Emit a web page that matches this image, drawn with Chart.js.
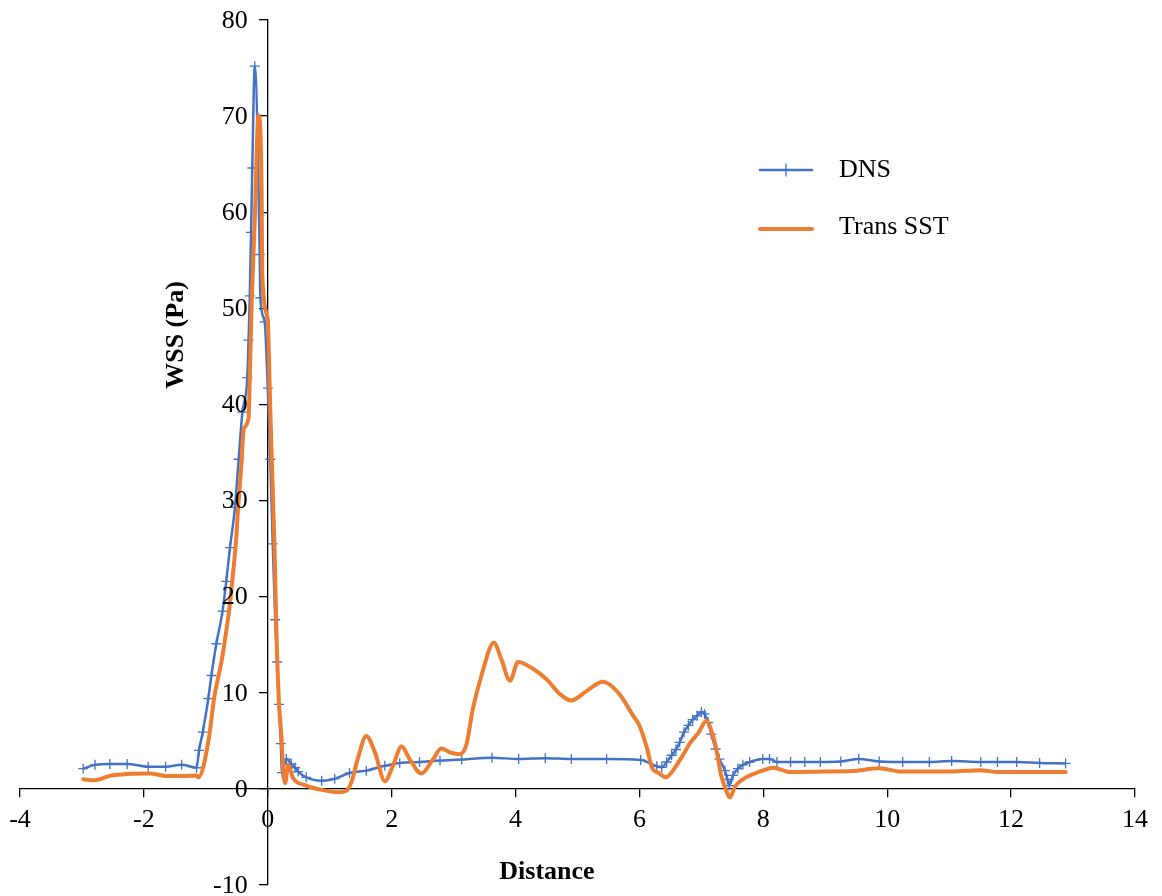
<!DOCTYPE html>
<html>
<head>
<meta charset="utf-8">
<title>WSS vs Distance</title>
<script src="https://cdn.jsdelivr.net/npm/chart.js@4.4.1/dist/chart.umd.min.js"></script>
<style>
  body { margin: 0; background: #fff; }
  #grafica { display: block; }
</style>
</head>
<body>
<canvas id="grafica" width="1162" height="896"></canvas>
<script>
// Serie DNS (con marcadores +)
const dnsX = [-2.98, -2.79, -2.55, -2.27, -1.93, -1.65, -1.39, -1.15, -1.11, -1.05, -0.96, -0.91, -0.83, -0.73, -0.67, -0.61, -0.53, -0.47, -0.41,
  -0.33, -0.31, -0.29, -0.27, -0.25, -0.21, -0.13, -0.12, -0.05, 0.00, 0.04, 0.08, 0.12, 0.15, 0.18, 0.21, 0.23, 0.30, 0.38, 0.44, 0.49,
  0.62, 0.87, 1.08, 1.32, 1.59, 1.89, 2.13, 2.45, 2.78, 3.13, 3.62, 4.05, 4.48, 4.90, 5.47, 6.02, 6.28, 6.36, 6.44, 6.52, 6.59, 6.65,
  6.72, 6.79, 6.86, 6.93, 7.00, 7.05, 7.11, 7.16, 7.23, 7.29, 7.38, 7.42, 7.45, 7.51, 7.59, 7.67, 7.78, 7.99, 8.10, 8.22, 8.44, 8.67,
  8.92, 9.25, 9.54, 9.87, 10.25, 10.68, 11.04, 11.51, 11.78, 12.09, 12.46, 12.88]
const dnsY = [2.1, 2.5, 2.6, 2.6, 2.3, 2.3, 2.5, 2.2, 4.0, 5.9, 9.4, 11.8, 15.1, 18.5, 21.6, 25.1, 29.3, 34.3, 39.2,
  42.8, 46.7, 51.3, 57.9, 64.6, 75.2, 55.6, 51.1, 48.6, 41.7, 34.3, 25.5, 17.6, 13.2, 8.8, 4.7, 1.7, 3.1, 2.6, 2.2, 1.8,
  1.2, 0.85, 1.05, 1.65, 1.9, 2.4, 2.7, 2.8, 2.95, 3.05, 3.25, 3.1, 3.2, 3.1, 3.1, 3.0, 2.35, 2.25, 2.8, 3.5, 4.1, 4.85,
  5.9, 6.6, 7.2, 7.6, 8.0, 7.8, 6.9, 5.7, 4.15, 3.1, 1.9, 1.0, 0.35, 1.4, 2.1, 2.5, 2.8, 3.1, 3.1, 2.8, 2.8, 2.8,
  2.8, 2.85, 3.1, 2.85, 2.8, 2.8, 2.9, 2.8, 2.8, 2.8, 2.7, 2.65]

// Serie Trans SST (linea continua)
const sstX = [-2.98, -2.79, -2.55, -2.27, -1.90, -1.64, -1.35, -1.15, -1.12, -0.96, -0.86, -0.80, -0.74, -0.68, -0.62, -0.56, -0.51, -0.48,
  -0.42, -0.39, -0.31, -0.29, -0.26, -0.21, -0.15, -0.10, -0.09, 0.00, 0.03, 0.06, 0.11, 0.14, 0.18, 0.22, 0.25, 0.28, 0.33, 0.41,
  0.60, 0.87, 1.14, 1.27, 1.35, 1.46, 1.59, 1.73, 1.89, 2.02, 2.16, 2.29, 2.48, 2.67, 2.80, 2.94, 3.10, 3.21, 3.31, 3.45, 3.65,
  3.77, 3.91, 4.04, 4.28, 4.50, 4.71, 4.90, 5.15, 5.41, 5.66, 5.90, 6.00, 6.11, 6.21, 6.30, 6.43, 6.54, 6.70, 6.81, 6.96, 7.08,
  7.16, 7.24, 7.32, 7.39, 7.46, 7.54, 7.67, 7.86, 8.08, 8.15, 8.44, 8.98, 9.43, 9.87, 10.22, 11.02, 11.49, 11.81, 12.88]
const sstY = [1.0, 0.9, 1.35, 1.55, 1.6, 1.35, 1.35, 1.4, 1.2, 4.9, 9.7, 11.6, 13.5, 16.0, 18.8, 22.5, 26.0, 29.1,
  34.3, 37.4, 38.6, 42.9, 50.6, 59.2, 70.1, 62.7, 53.7, 48.8, 41.9, 35.3, 24.9, 16.3, 9.0, 5.5, 2.0, 0.6, 2.5, 1.1,
  0.4, -0.1, -0.35, -0.2, 0.7, 3.3, 5.5, 3.8, 0.8, 2.4, 4.4, 3.1, 1.6, 3.1, 4.2, 3.8, 3.6, 4.7, 8.3, 11.8, 15.2,
  13.5, 11.25, 13.2, 12.5, 11.4, 9.9, 9.2, 10.2, 11.15, 10.0, 7.6, 6.6, 4.5, 2.1, 1.7, 1.2, 1.9, 3.5, 4.7, 5.9, 7.1,
  6.1, 4.15, 1.4, 0.0, -0.9, 0.2, 1.0, 1.6, 2.1, 2.2, 1.75, 1.8, 1.85, 2.15, 1.8, 1.8, 1.95, 1.75, 1.75]

// Ejes
const xMin = -4
const xMax = 14
const xStep = 2
const yMin = -10
const yMax = 80
const yStep = 10

const etiquetaX = 'Distance'
const etiquetaY = 'WSS (Pa)'
const nombreDns = 'DNS'
const nombreSst = 'Trans SST'

const azul = '#4472C4'
const naranja = '#ED7D31'
const fuente = "'Liberation Serif', 'Times New Roman', serif"

function armarPuntos (xs, ys) {
  return xs.map((x, i) => ({ x, y: ys[i] }))
}

// Etiquetas del eje Y a la izquierda del eje (que cruza en x = 0)
const etiquetasY = {
  id: 'etiquetasY',
  afterDraw (chart) {
    const ctx = chart.ctx
    const sx = chart.scales.x
    const sy = chart.scales.y
    const xEje = sx.getPixelForValue(0)
    ctx.save()
    ctx.fillStyle = '#000'
    ctx.font = '26px ' + fuente
    ctx.textAlign = 'right'
    ctx.textBaseline = 'middle'
    sy.ticks.forEach((t) => {
      ctx.fillText(String(t.value), xEje - 20, sy.getPixelForValue(t.value) + 1)
    })
    ctx.restore()
  }
}

// Titulos de ejes y leyenda dibujados en su lugar
const textosExtra = {
  id: 'textosExtra',
  afterDraw (chart) {
    const ctx = chart.ctx
    ctx.save()
    ctx.fillStyle = '#000'
    ctx.textAlign = 'center'
    ctx.textBaseline = 'middle'
    ctx.font = 'bold 26px ' + fuente
    ctx.fillText(etiquetaX, 547, 872)
    ctx.translate(176, 335)
    ctx.rotate(-Math.PI / 2)
    ctx.fillText(etiquetaY, 0, 0)
    ctx.restore()

    // leyenda
    ctx.save()
    ctx.lineCap = 'round'
    ctx.strokeStyle = azul
    ctx.lineWidth = 2.5
    ctx.beginPath()
    ctx.moveTo(760, 170)
    ctx.lineTo(812, 170)
    ctx.stroke()
    ctx.lineWidth = 1.3
    ctx.beginPath()
    ctx.moveTo(786, 164)
    ctx.lineTo(786, 176)
    ctx.stroke()
    ctx.strokeStyle = naranja
    ctx.lineWidth = 4
    ctx.beginPath()
    ctx.moveTo(760, 229)
    ctx.lineTo(812, 229)
    ctx.stroke()
    ctx.fillStyle = '#000'
    ctx.font = '26px ' + fuente
    ctx.textAlign = 'left'
    ctx.textBaseline = 'middle'
    ctx.fillText(nombreDns, 839, 170)
    ctx.fillText(nombreSst, 839, 227)
    ctx.restore()
  }
}

const data = {
  datasets: [
    {
      label: nombreDns,
      data: armarPuntos(dnsX, dnsY),
      showLine: true,
      borderColor: azul,
      backgroundColor: azul,
      borderWidth: 2.5,
      pointStyle: 'cross',
      pointRadius: 5,
      pointBorderWidth: 1.3,
      pointBorderColor: azul,
      cubicInterpolationMode: 'monotone',
      order: 1
    },
    {
      label: nombreSst,
      data: armarPuntos(sstX, sstY),
      showLine: true,
      borderColor: naranja,
      backgroundColor: naranja,
      borderWidth: 4,
      pointRadius: 0,
      cubicInterpolationMode: 'monotone',
      borderCapStyle: 'round',
      borderJoinStyle: 'round',
      order: 0
    }
  ]
}

const config = {
  type: 'scatter',
  data,
  options: {
    responsive: false,
    animation: false,
    layout: { padding: { left: 20, right: 27, top: 20, bottom: 11 } },
    plugins: {
      legend: { display: false },
      tooltip: { enabled: false }
    },
    scales: {
      x: {
        type: 'linear',
        min: xMin,
        max: xMax,
        position: { y: 0 },
        afterFit: (scale) => {
          scale.height = 0
          scale.paddingLeft = 0
          scale.paddingRight = 0
        },
        border: { display: true, color: '#000', width: 1.3 },
        grid: { drawOnChartArea: false, drawTicks: true, tickLength: 8, color: '#000', lineWidth: 1.3 },
        ticks: { stepSize: xStep, color: '#000', font: { family: fuente, size: 26 }, padding: 8, maxRotation: 0 }
      },
      y: {
        type: 'linear',
        min: yMin,
        max: yMax,
        position: { x: 0 },
        afterFit: (scale) => {
          scale.width = 0
          scale.paddingTop = 0
          scale.paddingBottom = 0
        },
        border: { display: true, color: '#000', width: 1.3 },
        grid: { drawOnChartArea: false, drawTicks: true, tickLength: 8, color: '#000', lineWidth: 1.3 },
        ticks: { stepSize: yStep, display: false }
      }
    }
  },
  plugins: [etiquetasY, textosExtra]
}

const chart = new Chart(document.getElementById('grafica'), config)
</script>
</body>
</html>
